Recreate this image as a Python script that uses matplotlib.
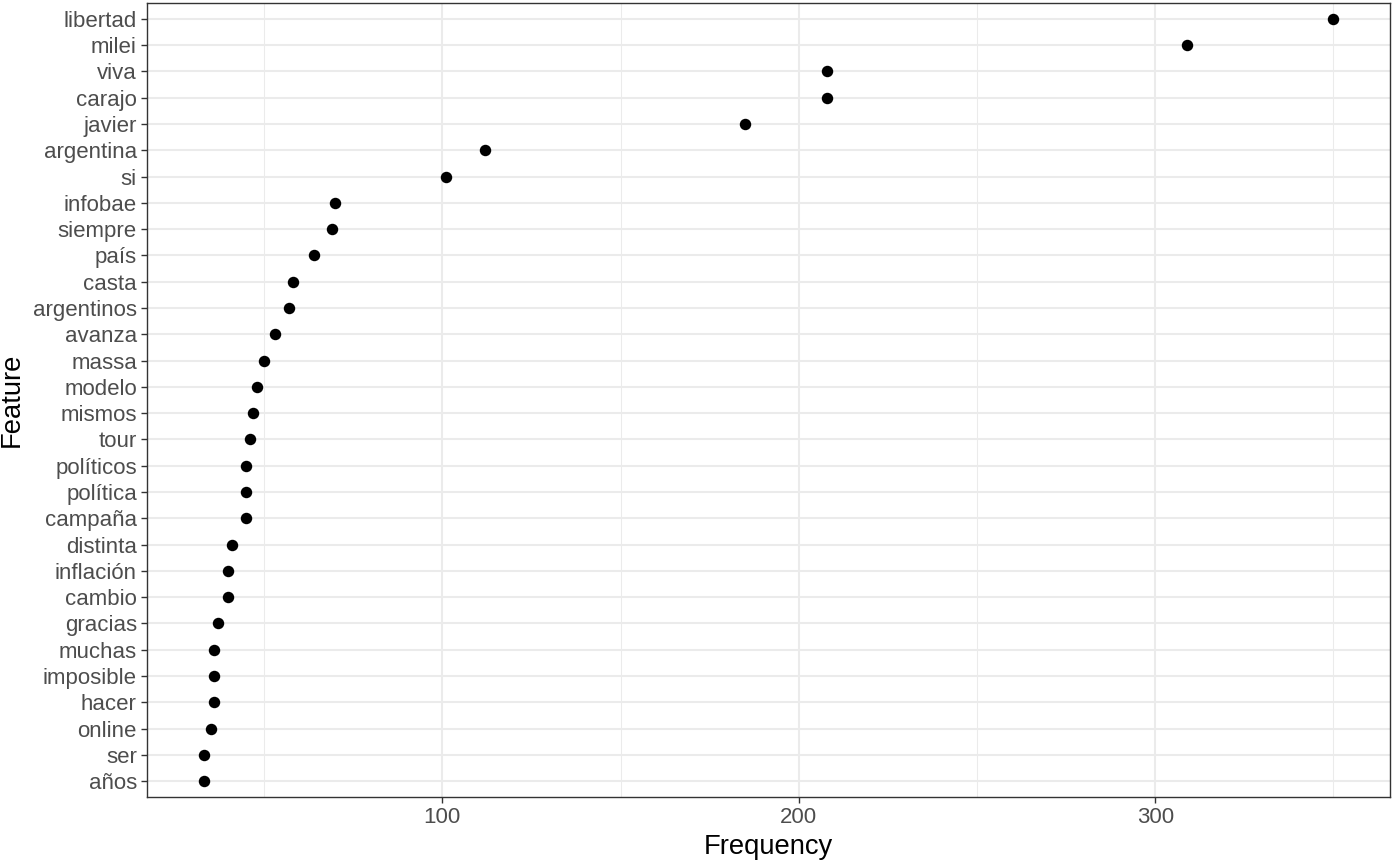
import matplotlib
matplotlib.use("Agg")
import matplotlib.pyplot as plt
from matplotlib.ticker import MultipleLocator

features = ["libertad", "milei", "viva", "carajo", "javier", "argentina", "si",
            "infobae", "siempre", "país", "casta", "argentinos", "avanza", "massa",
            "modelo", "mismos", "tour", "políticos", "política", "campaña",
            "distinta", "inflación", "cambio", "gracias", "muchas", "imposible",
            "hacer", "online", "ser", "años"]
frequency = [350, 309, 208, 208, 185, 112, 101,
             70, 69, 64, 58, 57, 53, 50,
             48, 47, 46, 45, 45, 45,
             41, 40, 40, 37, 36, 36,
             36, 35, 33, 33]

plt.rcParams['font.family'] = ['Liberation Sans', 'DejaVu Sans']

fig = plt.figure(figsize=(13.96, 8.64), dpi=100)
ax = fig.add_axes([147/1396, 1 - 797/864, (1390-147)/1396, (797-3)/864])

n = len(features)
ypos = list(range(n - 1, -1, -1))
ax.scatter(frequency, ypos, s=68, color="black", zorder=3, linewidths=0)

lo, hi = min(frequency), max(frequency)
pad = (hi - lo) * 0.05
ax.set_xlim(lo - pad, hi + pad)
ax.set_ylim(-0.6, n - 1 + 0.6)

ax.xaxis.set_major_locator(MultipleLocator(100))
ax.xaxis.set_minor_locator(MultipleLocator(50))
ax.set_yticks(ypos)
ax.set_yticklabels(features)

ax.grid(which="major", color="#EBEBEB", linewidth=1.5, zorder=0)
ax.grid(which="minor", axis="x", color="#EBEBEB", linewidth=0.75, zorder=0)
ax.set_axisbelow(True)

for sp in ax.spines.values():
    sp.set_color("#333333")
    sp.set_linewidth(1.0)

ax.tick_params(which="major", length=4.3, width=1.0, color="#333333",
               labelcolor="#4D4D4D", labelsize=16, pad=3)
ax.tick_params(which="minor", length=0)

ax.set_xlabel("Frequency", fontsize=19.7, color="black", labelpad=4)
ax.set_ylabel("Feature", fontsize=19.7, color="black", labelpad=6)

fig.savefig("out.png", dpi=100, facecolor="white")
